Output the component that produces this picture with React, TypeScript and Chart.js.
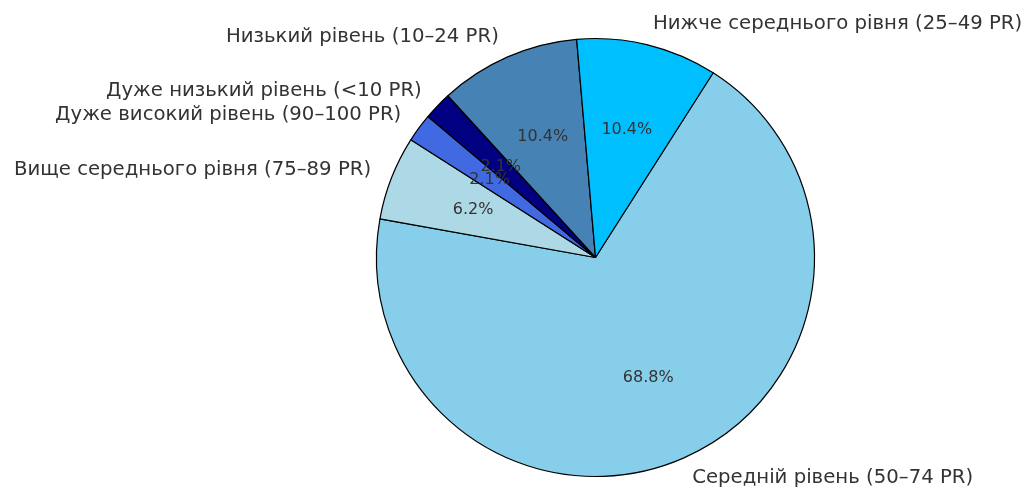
import React, { useEffect, useRef } from "react";
import { Chart, registerables } from "chart.js";

Chart.register(...registerables);

const categories = [
  "Середній рівень (50–74 PR)",
  "Вище середнього рівня (75–89 PR)",
  "Дуже високий рівень (90–100 PR)",
  "Дуже низький рівень (<10 PR)",
  "Низький рівень (10–24 PR)",
  "Нижче середнього рівня (25–49 PR)",
];
const percents = [68.8, 6.2, 2.1, 2.1, 10.4, 10.4];
const colors = ["#87CEEB", "#ADD8E6", "#4169E1", "#000080", "#4682B4", "#00BFFF"];

const labelPlugin = {
  id: "pieLabels",
  afterDatasetsDraw(chart: any) {
    const ctx = chart.ctx;
    const meta = chart.getDatasetMeta(0);
    const data = chart.data.datasets[0].data as number[];
    const total = data.reduce((a, b) => a + b, 0);
    ctx.save();
    meta.data.forEach((arc: any, i: number) => {
      const { x, y, startAngle, endAngle, outerRadius } = arc.getProps(
        ["x", "y", "startAngle", "endAngle", "outerRadius"],
        true
      );
      const mid = (startAngle + endAngle) / 2;
      const cos = Math.cos(mid);
      const sin = Math.sin(mid);
      const lx = x + cos * outerRadius * 1.1;
      const ly = y + sin * outerRadius * 1.1;
      ctx.font = "19.7px 'DejaVu Sans'";
      ctx.fillStyle = "#333333";
      ctx.textBaseline = "middle";
      ctx.textAlign = lx >= x ? "left" : "right";
      ctx.fillText(chart.data.labels[i], lx, ly);
      const px = x + cos * outerRadius * 0.6;
      const py = y + sin * outerRadius * 0.6;
      ctx.font = "16px 'DejaVu Sans'";
      ctx.fillStyle = "#333333";
      ctx.textAlign = "center";
      ctx.fillText(((data[i] / total) * 100).toFixed(1) + "%", px, py);
    });
    ctx.restore();
  },
};

export default function App() {
  const ref = useRef<HTMLCanvasElement | null>(null);
  useEffect(() => {
    document.body.style.margin = "0";
    document.body.style.background = "#ffffff";
    if (!ref.current) return;
    const chart = new Chart(ref.current, {
      type: "pie",
      data: {
        labels: categories,
        datasets: [
          {
            data: percents,
            backgroundColor: colors,
            borderColor: "#000000",
            borderWidth: 1.2,
          },
        ],
      },
      options: {
        responsive: false,
        animation: false,
        rotation: 32.5,
        radius: 219,
        layout: {
          padding: { top: 37.5, bottom: 10.5, left: 375.5, right: 210.5 },
        },
        plugins: {
          legend: { display: false },
          tooltip: { enabled: false },
        },
      } as any,
      plugins: [labelPlugin],
    });
    return () => chart.destroy();
  }, []);
  return (
    <div style={{ width: 1026, height: 488, background: "#fff" }}>
      <canvas ref={ref} width={1026} height={488} />
    </div>
  );
}
